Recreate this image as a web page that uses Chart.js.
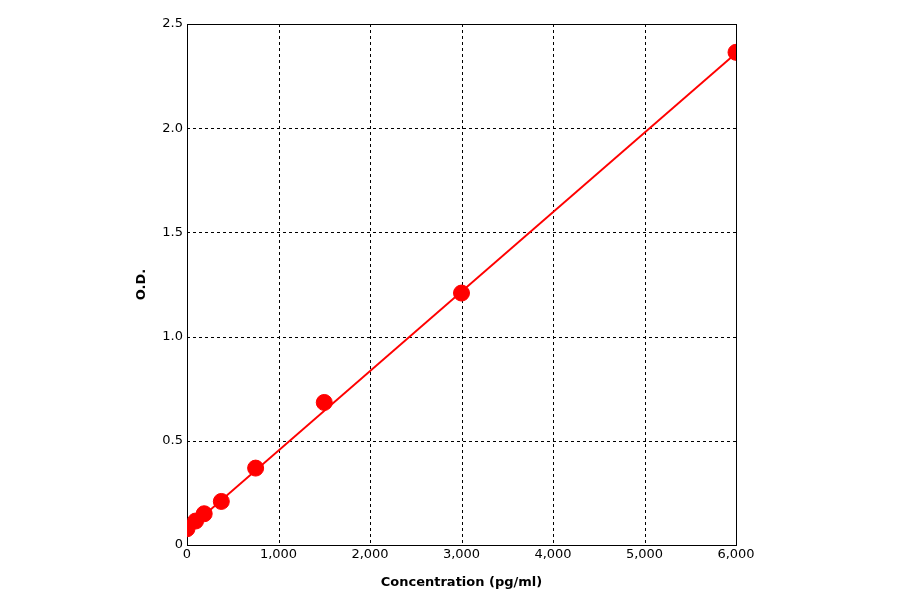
<!DOCTYPE html>
<html><head><script src="https://cdn.jsdelivr.net/npm/chart.js@4"></script>
<style>html,body{margin:0;background:#fff}#w{width:900px;height:594px}</style></head>
<body><div id="w"><canvas id="c"></canvas></div>
<script>
const concentrations=[0,94,188,375,750,1500,3000,6000];
const odValues=[0.078,0.115,0.15,0.209,0.369,0.684,1.209,2.364];
const fitX=[0,6000];
const fitY=[0.072,2.36];
const xTicks=[0,1000,2000,3000,4000,5000,6000];
const font={family:'"DejaVu Sans", Arial, sans-serif',size:13};
new Chart(document.getElementById('c'),{
type:'scatter',
data:{datasets:[
{data:fitX.map((x,i)=>({x,y:fitY[i]})),showLine:true,borderColor:'#ff0000',borderWidth:2,pointRadius:0},
{data:concentrations.map((x,i)=>({x,y:odValues[i]})),backgroundColor:'#ff0000',borderColor:'#ff0000',pointRadius:8,pointStyle:'circle'}
]},
options:{animation:false,responsive:true,maintainAspectRatio:false,
layout:{padding:{left:130,right:164,top:24,bottom:0}},
plugins:{legend:{display:false},tooltip:{enabled:false}},
scales:{
x:{type:'linear',min:0,max:6000,afterBuildTicks:s=>{s.ticks=xTicks.map(v=>({value:v}))},
afterFit:s=>{s.height=49},
grid:{color:'#000',lineWidth:1,tickLength:4,drawTicks:false},border:{display:true,color:'#000',dash:[]},
ticks:{color:'#000',font,padding:2,maxRotation:0},
title:{display:true,text:'Concentration (pg/ml)',color:'#000',font:{...font,weight:'bold'},padding:{top:0}}},
y:{min:0,max:2.5,ticks:{stepSize:0.5,color:'#000',font,padding:4},
afterFit:s=>{s.width=57},
grid:{color:'#000',drawTicks:false},border:{display:true,color:'#000'},
title:{display:true,text:'O.D.',color:'#000',font:{...font,weight:'bold'},padding:{bottom:6}}}
}},
plugins:[{id:'dash',beforeDatasetsDraw(ch){const {ctx,chartArea:a,scales:{x,y}}=ch;ctx.save();ctx.strokeStyle='#000';ctx.lineWidth=1;
ctx.clearRect(a.left,a.top,a.right-a.left,a.bottom-a.top);ctx.fillStyle='#fff';ctx.fillRect(a.left,a.top,a.right-a.left,a.bottom-a.top);
ctx.setLineDash([3,3]);
xTicks.slice(1,-1).forEach(v=>{const px=Math.round(x.getPixelForValue(v))+0.5;ctx.beginPath();ctx.moveTo(px,a.top);ctx.lineTo(px,a.bottom);ctx.stroke();});
[0.5,1,1.5,2].forEach(v=>{const py=Math.round(y.getPixelForValue(v))+0.5;ctx.beginPath();ctx.moveTo(a.left,py);ctx.lineTo(a.right,py);ctx.stroke();});
ctx.setLineDash([]);ctx.strokeRect(Math.round(a.left)+0.5,Math.round(a.top)+0.5,Math.round(a.right-a.left),Math.round(a.bottom-a.top));ctx.restore();}}]
});
</script></body></html>
